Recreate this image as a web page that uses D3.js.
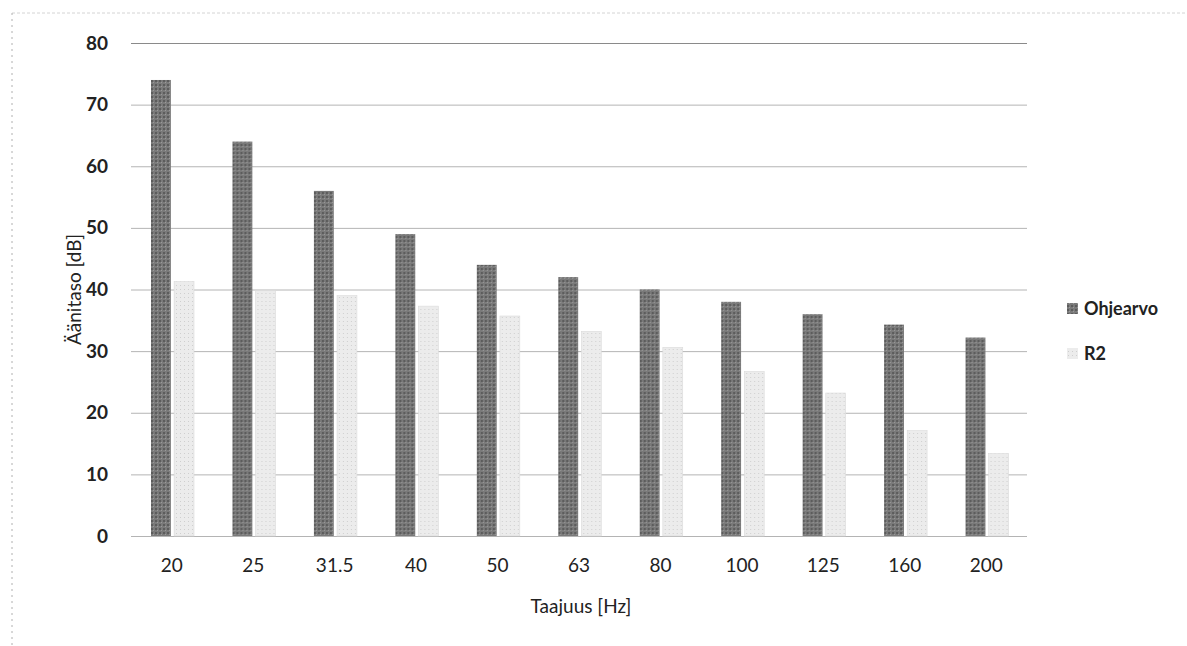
<html>

<head>
    <script src="https://d3js.org/d3.v7.min.js"></script>
    <style>
        body { margin: 0; background: #fff; }
        text { font-family: Lato, "Open Sans", sans-serif; fill: #222; }
    </style>
</head>

<body>
    <div id="chart">
        <svg width="1187" height="646"></svg>
    </div>
    <script>
        var frequencies = ['20', '25', '31.5', '40', '50', '63', '80', '100', '125', '160', '200']
        var seriesNames = ['Ohjearvo', 'R2']
        var ohjearvo = [74, 64, 56, 49, 44, 42, 40, 38, 36, 34.3, 32.2]
        var r2 = [41.3, 39.8, 39, 37.3, 35.7, 33.2, 30.6, 26.7, 23.2, 17.1, 13.4]
        var yTicks = [0, 10, 20, 30, 40, 50, 60, 70, 80]

        var colors = { 'Ohjearvo': 'url(#darkDots)', 'R2': 'url(#lightDots)' }

        var svg = d3.select('#chart svg')

        // dotted fills, like the scanned original
        var defs = svg.append('defs')
        var dark = defs.append('pattern')
            .attr('id', 'darkDots')
            .attr('width', 4).attr('height', 4)
            .attr('patternUnits', 'userSpaceOnUse')
        dark.append('rect').attr('width', 4).attr('height', 4).attr('fill', '#7a7a7a')
        dark.append('rect').attr('x', 0).attr('y', 0).attr('width', 2).attr('height', 2).attr('fill', '#5c5c5c')
        dark.append('rect').attr('x', 2).attr('y', 2).attr('width', 1).attr('height', 1).attr('fill', '#9a9a9a')

        var light = defs.append('pattern')
            .attr('id', 'lightDots')
            .attr('width', 4).attr('height', 4)
            .attr('patternUnits', 'userSpaceOnUse')
        light.append('rect').attr('width', 4).attr('height', 4).attr('fill', '#ececec')
        light.append('rect').attr('x', 1).attr('y', 1).attr('width', 1).attr('height', 1).attr('fill', '#cfcfcf')

        // plot box (don't use "top", it's window.top)
        var plotLeft = 131, plotRight = 1027, plotTop = 43, plotBottom = 536

        var xScale = d3.scaleBand()
            .domain(frequencies)
            .range([plotLeft, plotRight])

        var seriesScale = d3.scaleBand()
            .domain(seriesNames)
            .range([20, 63])
            .paddingInner(0.14)

        var yScale = d3.scaleLinear()
            .domain([0, 80])
            .range([plotBottom, plotTop])

        // faint border of the chart box
        svg.append('line')
            .attr('x1', 12).attr('x2', 1187).attr('y1', 13).attr('y2', 13)
            .attr('stroke', '#d4d4d4').attr('stroke-dasharray', '3,2')
        svg.append('line')
            .attr('x1', 12).attr('x2', 12).attr('y1', 13).attr('y2', 646)
            .attr('stroke', '#b0b0b0').attr('stroke-dasharray', '2,4')

        // gridlines + y labels
        var yAxis = d3.axisLeft(yScale)
            .tickValues(yTicks)
            .tickSize(-(plotRight - plotLeft))
            .tickPadding(23)
        var yg = svg.append('g')
            .classed('yaxis', true)
            .attr('transform', 'translate(' + plotLeft + ', 0)')
            .call(yAxis)
        yg.select('.domain').remove()
        yg.selectAll('.tick line')
            .attr('stroke', function(d) { return d == 80 ? '#8a8a8a' : '#b4b4b4' })
        yg.selectAll('.tick text')
            .style('font-size', '19px')
            .style('font-weight', 'bold')
            .attr('fill', '#222')

        var data = frequencies.map(function(f, i) {
            return { freq: f, values: [ohjearvo[i], r2[i]] }
        })

        var groups = svg.selectAll('g.group')
            .data(data)
            .enter()
            .append('g')
            .classed('group', true)
            .attr('transform', function(d) { return 'translate(' + xScale(d.freq) + ', 0)' })

        groups.selectAll('rect')
            .data(function(d) {
                return seriesNames.map(function(s, j) { return { name: s, value: d.values[j] } })
            })
            .enter()
            .append('rect')
            .attr('x', function(d) { return seriesScale(d.name) })
            .attr('width', seriesScale.bandwidth())
            .attr('y', function(d) { return yScale(d.value) })
            .attr('height', function(d) { return plotBottom - yScale(d.value) })
            .attr('fill', function(d) { return colors[d.name] })
            .attr('stroke', function(d) { return d.name == 'R2' ? '#dadada' : 'none' })
            .attr('stroke-width', 0.6)

        // x axis (labels only)
        var xAxis = d3.axisBottom(xScale).tickSize(0).tickPadding(23)
        var xg = svg.append('g')
            .attr('transform', 'translate(0,' + plotBottom + ')')
            .call(xAxis)
        xg.select('.domain').remove()
        xg.selectAll('.tick text')
            .style('font-size', '19px')
            .attr('fill', '#222')

        svg.append('text')
            .attr('x', (plotLeft + plotRight) / 2 + 2)
            .attr('y', 613)
            .attr('text-anchor', 'middle')
            .style('font-size', '19px')
            .text('Taajuus [Hz]')

        svg.append('text')
            .attr('transform', 'translate(81,' + (plotTop + plotBottom) / 2 + ') rotate(-90)')
            .attr('text-anchor', 'middle')
            .style('font-size', '19px')
            .text('Äänitaso [dB]')

        // legend
        var legend = svg.selectAll('g.legend')
            .data(seriesNames)
            .enter()
            .append('g')
            .classed('legend', true)
            .attr('transform', function(d, i) { return 'translate(1067,' + (309 + i * 45) + ')' })
        legend.append('rect')
            .attr('x', 0).attr('y', -6)
            .attr('width', 11).attr('height', 11)
            .attr('fill', function(d) { return colors[d] })
        legend.append('text')
            .attr('x', 17)
            .attr('dy', '0.35em')
            .style('font-size', '18px')
            .style('font-weight', 'bold')
            .text(function(d) { return d })
    </script>
</body>

</html>
